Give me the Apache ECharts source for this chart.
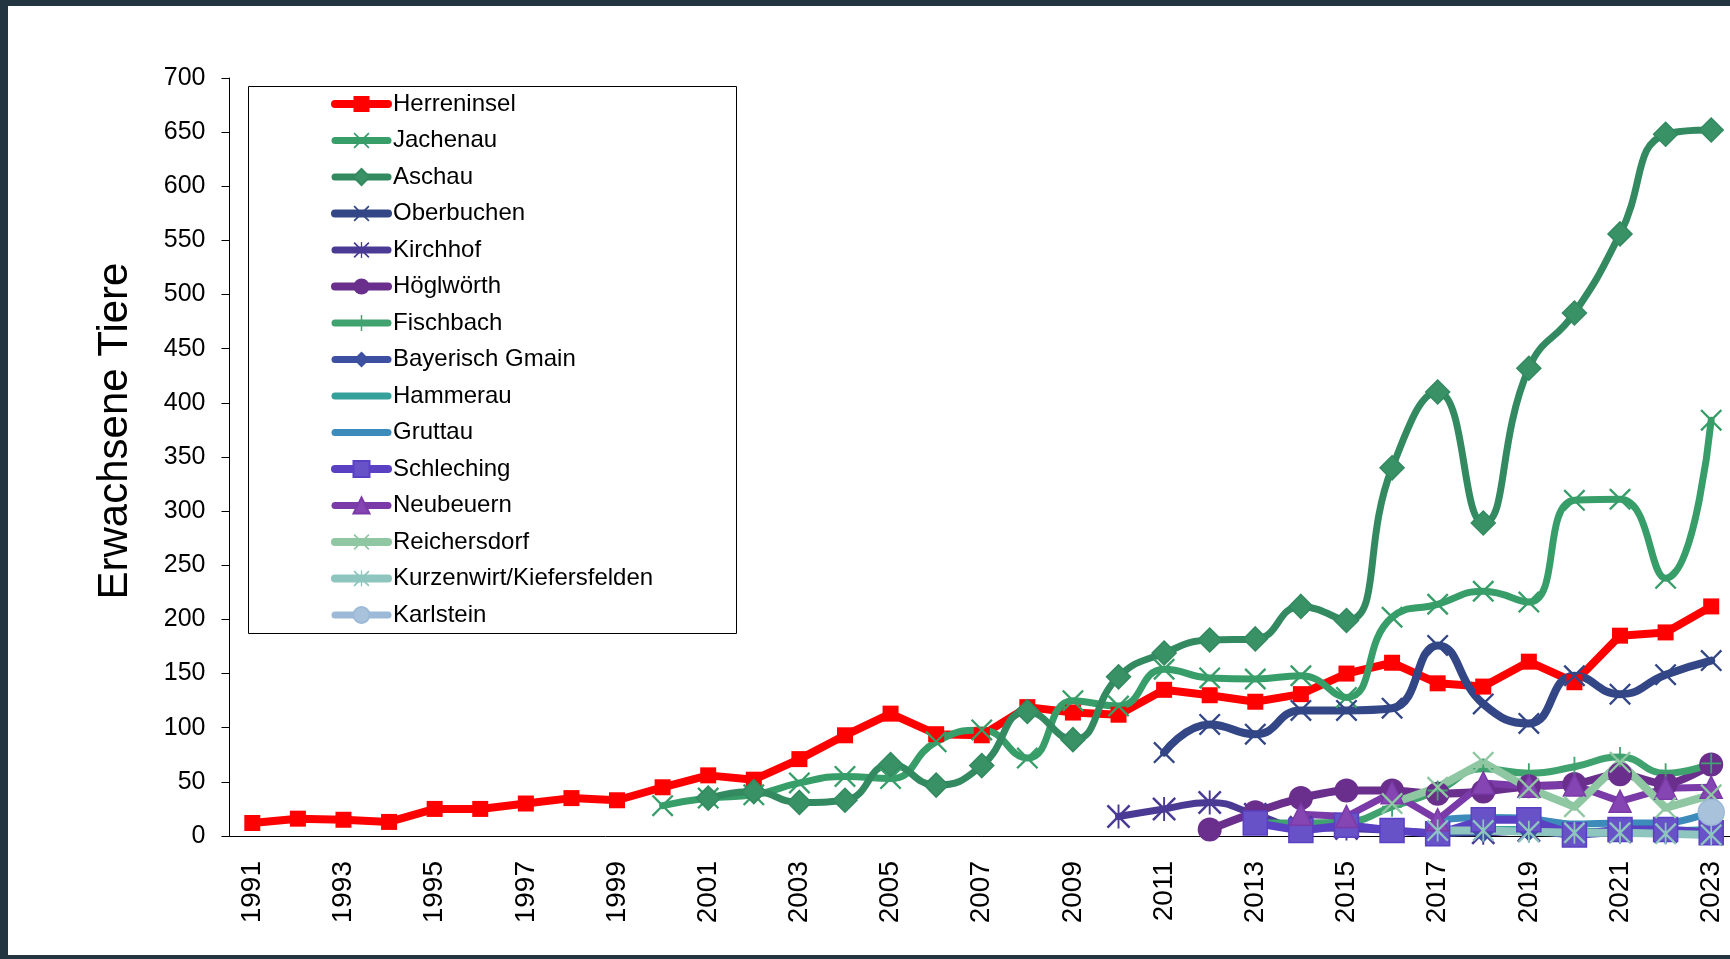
<!DOCTYPE html>
<html>
<head>
<meta charset="utf-8">
<script src="https://cdn.jsdelivr.net/npm/echarts@6/dist/echarts.min.js"></script>
<style>
  html, body { margin: 0; padding: 0; background: #233541; overflow: hidden; width: 1730px; height: 959px; }
  #chart { position: absolute; left: 8px; top: 6px; width: 1740px; height: 949px; background: #fff; }
</style>
</head>
<body>
<div id="chart"></div>
<script>
// years on the x axis
var years = [];
for (var y = 1991; y <= 2023; y++) years.push(String(y));

// adult animals per site, each list starts at the given year
var herreninsel = [12, 16, 15, 13, 25, 25, 30, 35, 33, 45, 56, 52, 71, 93, 113, 94, 93, 119, 114, 112,
                   135, 130, 124, 131, 150, 160, 141, 138, 161, 142, 185, 188, 212];
var jachenau = [28, 35, 38, 49, 55, 53, 87, 98, 72, 125, 120, 154, 146, 145, 148, 128, 202, 214, 226, 216,
                310, 311, 238, 384];
var aschau = [35, 41, 31, 33, 66, 47, 65, 115, 89, 147, 169, 181, 182, 212, 199, 340, 410, 289, 432, 483,
              556, 648, 652];
var oberbuchen = [77, 103, 94, 116, 116, 118, 176, 122, 104, 148, 131, 149, 162];
var kirchhof = [18, 25, 31, 20, 8, 7, 5, 3, 3, 5, 2, 4, 4, 2];
var hoeglwoerth = [6, 22, 35, 42, 42, 39, 41, 46, 48, 57, 48, 66];
var fischbach = [12, 12, 13, 27, 42, 62, 58, 64, 73, 58, 67];
var bayerischGmain = [2, 4, 5, 1, 3, 3, 3];
var hammerau = [4, 6, 6, 4, 5, 5, 6];
var gruttau = [15, 17, 16, 11, 12, 12, 22];
var schleching = [12, 5, 10, 5, 2, 15, 15, 1, 6, 6, 3];
var neubeuern = [20, 18, 40, 15, 49, 46, 47, 32, 44, 45];
var reichersdorf = [30, 45, 68, 44, 27, 68, 26, 38];
var kurzenwirt = [5, 5, 4, 3, 3, 2, 1];
var karlstein = [22];

var yTicks = [0, 700, 50];   // min, max, step

// put a list that starts in startYear onto the full year axis
function fromYear(startYear, values) {
    var out = [];
    for (var i = 0; i < years.length; i++) {
        var k = 1991 + i - startYear;
        out.push(k >= 0 && k < values.length ? values[k] : null);
    }
    return out;
}

var X_SYM = 'path://M0,1.5L1.5,0L10,8.5L18.5,0L20,1.5L11.5,10L20,18.5L18.5,20L10,11.5L1.5,20L0,18.5L8.5,10Z';
var STAR_SYM = X_SYM + 'M9.2,0L10.8,0L10.8,20L9.2,20Z';
var PLUS_SYM = 'path://M9.1,0L10.9,0L10.9,9.1L20,9.1L20,10.9L10.9,10.9L10.9,20L9.1,20L9.1,10.9L0,10.9L0,9.1L9.1,9.1Z';

var font = '"Liberation Sans", Arial, sans-serif';

function line(name, data, color, symbol, size, width, smooth, fill) {
    return {
        name: name,
        type: 'line',
        data: data,
        smooth: smooth,
        symbol: symbol,
        symbolSize: size,
        showAllSymbol: true,
        lineStyle: { color: color, width: width, cap: 'round', join: 'round' },
        itemStyle: { color: fill || color, borderColor: color, borderWidth: fill ? 1.5 : 0 },
        emphasis: { disabled: true }
    };
}

var series = [
    line('Herreninsel', herreninsel, '#ff0000', 'rect', 16, 8, false),
    line('Jachenau', fromYear(2000, jachenau), '#389e69', X_SYM, 22, 7, 0.5),
    line('Aschau', fromYear(2001, aschau), '#338a61', 'diamond', 24, 7, 0.5, '#399265'),
    line('Oberbuchen', fromYear(2011, oberbuchen), '#334686', X_SYM, 22, 8, 0.5),
    line('Kirchhof', fromYear(2010, kirchhof), '#4a3a94', STAR_SYM, 24, 7, 0.5),
    line('Höglwörth', fromYear(2012, hoeglwoerth), '#6a2f8c', 'circle', 24, 8, 0.3),
    line('Fischbach', fromYear(2013, fischbach), '#40a26f', PLUS_SYM, 20, 7, 0.5),
    line('Bayerisch Gmain', fromYear(2017, bayerischGmain), '#3c4fa0', 'diamond', 22, 7, 0.3),
    line('Hammerau', fromYear(2017, hammerau), '#35a19b', 'none', 0, 7, 0.3),
    line('Gruttau', fromYear(2017, gruttau), '#3c8bbb', 'none', 0, 7, 0.3),
    line('Schleching', fromYear(2013, schleching), '#5a40c2', 'rect', 24, 8, false, '#6852c8'),
    line('Neubeuern', fromYear(2014, neubeuern), '#7a3aa8', 'triangle', 22, 7, false, '#8546b4'),
    line('Reichersdorf', fromYear(2016, reichersdorf), '#8fc7a2', X_SYM, 22, 8, false),
    line('Kurzenwirt/Kiefersfelden', fromYear(2017, kurzenwirt), '#8ec5bf', STAR_SYM, 22, 8, false),
    line('Karlstein', fromYear(2023, karlstein), '#9cb9d8', 'circle', 26, 7, false, '#a8c2dc')
];

// legend entries; the two lines without markers get no marker in the legend either
var legendData = series.map(function (s) {
    return s.symbol === 'none' ? { name: s.name, itemStyle: { opacity: 0 } } : { name: s.name };
});

var chart = echarts.init(document.getElementById('chart'));

var option = {
    animation: false,
    grid: { left: 221.5, top: 72, right: 14, bottom: 119 },
    xAxis: {
        type: 'category',
        data: years,
        boundaryGap: true,
        axisLine: { lineStyle: { color: '#000', width: 1 } },
        axisTick: { interval: 0, length: 9, lineStyle: { color: '#000' } },
        axisLabel: { interval: 1, rotate: 90, margin: 25, color: '#000', fontSize: 28, fontFamily: font },
        splitLine: { show: false }
    },
    yAxis: {
        type: 'value',
        min: yTicks[0],
        max: yTicks[1],
        interval: yTicks[2],
        axisLine: { show: true, lineStyle: { color: '#000', width: 1 } },
        axisTick: { show: true, length: 8, lineStyle: { color: '#000' } },
        axisLabel: { margin: 24, color: '#000', fontSize: 25, fontFamily: font },
        splitLine: { show: false }
    },
    legend: {
        data: legendData,
        orient: 'vertical',
        left: 323,
        top: 86,
        padding: 0,
        itemWidth: 53,
        itemHeight: 20,
        itemGap: 12.5,
        selectedMode: false,
        lineStyle: { width: 'inherit', cap: 'round' },
        textStyle: { color: '#000', fontSize: 24, lineHeight: 24, fontFamily: font }
    },
    graphic: [
        {
            type: 'rect',
            left: 238, top: 78,
            shape: { width: 488, height: 547 },
            style: { fill: 'none', stroke: '#000', lineWidth: 1 },
            z: 0
        },
        {
            type: 'text',
            x: 107, y: 425,
            rotation: Math.PI / 2,
            style: {
                text: 'Erwachsene Tiere',
                font: '42px ' + font,
                fill: '#000',
                align: 'center',
                verticalAlign: 'middle'
            }
        }
    ],
    series: series
};

chart.setOption(option);
</script>
</body>
</html>
